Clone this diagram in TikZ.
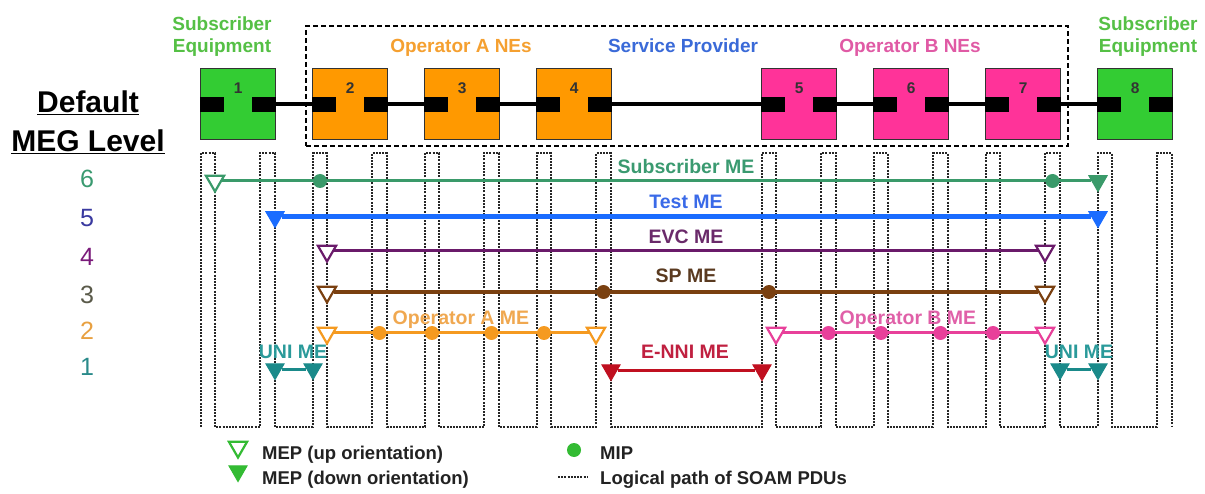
\documentclass[tikz,border=0pt]{standalone}
\usepackage{fontspec}
\setmainfont{Liberation Sans}
\usetikzlibrary{shapes.geometric}
\pgfdeclarelayer{background}
\pgfdeclarelayer{bg}
\pgfsetlayers{background,bg,main}
\definecolor{boxgreen}{HTML}{33CC33}
\definecolor{boxorange}{HTML}{FF9900}
\definecolor{boxpink}{HTML}{FF3399}
\definecolor{subeq}{HTML}{55C045}
\definecolor{opAtxt}{HTML}{F5A030}
\definecolor{sptxt}{HTML}{3A6AD8}
\definecolor{opBtxt}{HTML}{E05AA5}
\definecolor{subme}{HTML}{3A9A6A}
\definecolor{testme}{HTML}{1A6CFF}
\definecolor{evcme}{HTML}{6A1A6A}
\definecolor{spme}{HTML}{7A4010}
\definecolor{opame}{HTML}{F59A20}
\definecolor{opbme}{HTML}{E8409A}
\definecolor{enni}{HTML}{C01020}
\definecolor{unime}{HTML}{1A8A8A}
\definecolor{submetxt}{HTML}{3A9A70}
\definecolor{testmetxt}{HTML}{3A6AE8}
\definecolor{evcmetxt}{HTML}{6A2A6A}
\definecolor{spmetxt}{HTML}{5A3A20}
\definecolor{opametxt}{HTML}{F0A850}
\definecolor{opbmetxt}{HTML}{E060A8}
\definecolor{unimetxt}{HTML}{2A9A9A}
\definecolor{ennitxt}{HTML}{C02040}
\definecolor{lvlsix}{HTML}{3A9A70}
\definecolor{lvlfive}{HTML}{3A3AA0}
\definecolor{lvlfour}{HTML}{7A1A7A}
\definecolor{lvlthree}{HTML}{5A5A4A}
\definecolor{lvltwo}{HTML}{E8A040}
\definecolor{lvlone}{HTML}{2A8A8A}
\definecolor{legendgreen}{HTML}{33BB33}
\definecolor{legtxtc}{HTML}{222222}
\newcommand\mylbl{\fontsize{19.5}{22}\selectfont\bfseries}
\newcommand\mytop{\fontsize{19}{22}\selectfont\bfseries}
\newcommand\mybig{\fontsize{30}{34}\selectfont\bfseries}
\newcommand\mylvl{\fontsize{25}{28}\selectfont}
\newcommand\mynum{\fontsize{15.5}{18}\selectfont\bfseries}
\newcommand\myleg{\fontsize{18.5}{22}\selectfont\bfseries}
\begin{document}
\begin{tikzpicture}[x=1pt,y=-1pt,
  nebox/.style={draw=black!80, line width=1.3pt, minimum width=75pt, minimum height=71pt, inner sep=0pt, anchor=north west},
  port/.style={fill=black, minimum width=24pt, minimum height=15pt, inner sep=0pt},
  link/.style={draw=black, line width=4pt},
  spframe/.style={draw=black, dashed, dash pattern=on 5pt off 3pt, line width=2pt, minimum width=762pt, minimum height=120pt, inner sep=0pt, anchor=north west},
  soam/.style={draw=black!85, dash pattern=on 2pt off 1.2pt, line width=2pt},
  upmep/.style={regular polygon, regular polygon sides=3, shape border rotate=180, minimum size=21pt, inner sep=0pt, fill=white, draw=#1, line width=2.2pt},
  downmep/.style={regular polygon, regular polygon sides=3, shape border rotate=180, minimum size=21pt, inner sep=0pt, fill=#1, draw=#1, line width=1pt},
  mip/.style={circle, fill=#1, minimum size=14pt, inner sep=0pt},
  meline/.style={draw=#1, line width=3pt},
  melbl/.style={font=\mylbl, inner sep=0pt, anchor=base},
  toplbl/.style={font=\mytop, inner sep=0pt, anchor=base},
  lvl/.style={font=\mylvl, inner sep=0pt, anchor=base},
  numtxt/.style={font=\mynum, text=black!80, inner sep=0pt, anchor=base},
  legtxt/.style={font=\myleg, text=legtxtc, inner sep=0pt, anchor=base west}
]
\useasboundingbox (0,0) rectangle (1205,494);
\begin{pgfonlayer}{background}
\fill[white] (0,0) rectangle (1205,494);
\end{pgfonlayer}

% ---------- Top labels ----------
\node[toplbl, text=subeq] (se1a) at (222,31) {Subscriber};
\node[toplbl, text=subeq] (se1b) at (222,53) {Equipment};
\node[toplbl, text=subeq] (se2a) at (1148,31) {Subscriber};
\node[toplbl, text=subeq] (se2b) at (1148,53) {Equipment};
\node[toplbl, text=opAtxt] (opA) at (461,53) {Operator A NEs};
\node[toplbl, text=sptxt] (spl) at (683,53) {Service Provider};
\node[toplbl, text=opBtxt] (opB) at (910,53) {Operator B NEs};

\node[spframe] (sp) at (305,25) {};

% ---------- Network elements ----------
\node[nebox, fill=boxgreen] (b1) at (200,68) {};
\node[nebox, fill=boxorange] (b2) at (312,68) {};
\node[nebox, fill=boxorange] (b3) at (424,68) {};
\node[nebox, fill=boxorange] (b4) at (536,68) {};
\node[nebox, fill=boxpink] (b5) at (761,68) {};
\node[nebox, fill=boxpink] (b6) at (873,68) {};
\node[nebox, fill=boxpink] (b7) at (985,68) {};
\node[nebox, fill=boxgreen] (b8) at (1097,68) {};
\foreach \i in {1,...,8}{
  \node[port, anchor=west] (b\i l) at (b\i.west) {};
  \node[port, anchor=east] (b\i r) at (b\i.east) {};
  \node[numtxt] (n\i) at ([yshift=-26pt]b\i.north) {\i};
}
\begin{pgfonlayer}{bg}
\foreach \a/\b in {1/2,2/3,3/4,4/5,5/6,6/7,7/8}{
  \draw[link] (b\a r) -- (b\b l);
}
\end{pgfonlayer}

% ---------- Default MEG level ----------
\node[font=\mybig, inner sep=0pt, anchor=base] (dft) at (88,113) {\underline{Default}};
\node[font=\mybig, inner sep=0pt, anchor=base] (meg) at (88,152) {\underline{MEG Level}};
\node[lvl, text=lvlsix] (l6) at (87,188) {6};
\node[lvl, text=lvlfive] (l5) at (87,227) {5};
\node[lvl, text=lvlfour] (l4) at (87,266) {4};
\node[lvl, text=lvlthree] (l3) at (87,304) {3};
\node[lvl, text=lvltwo] (l2) at (87,340) {2};
\node[lvl, text=lvlone] (l1) at (87,375) {1};

% ---------- Logical path of SOAM PDUs ----------
\begin{pgfonlayer}{bg}
\draw[soam] (201,427) -- (201,153) -- (215,153) -- (215,427)
  \foreach \a/\b in {260/275,313/327,372/387,425/439,484/499,537/551,596/611,762/776,821/836,874/888,933/948,986/1000,1045/1060,1098/1112,1157/1172}{ -| (\a,153) -- (\b,153) -- (\b,427)};
\end{pgfonlayer}

% ---------- Subscriber ME (6) ----------
\node[upmep=subme] (s1) at (215,181) {};
\node[mip=subme] (s2) at (320,181) {};
\node[mip=subme] (s3) at (1052.5,181) {};
\node[downmep=subme] (s4) at (1098,181) {};
\node[melbl, text=submetxt] at (686,174) {Subscriber ME};

% ---------- Test ME (5) ----------
\node[downmep=testme] (t1) at (275,217) {};
\node[downmep=testme] (t2) at (1098,217) {};
\node[melbl, text=testmetxt] at (686,209) {Test ME};

% ---------- EVC ME (4) ----------
\node[upmep=evcme] (e1) at (327,251) {};
\node[upmep=evcme] (e2) at (1045,251) {};
\node[melbl, text=evcmetxt] at (686,244) {EVC ME};

% ---------- SP ME (3) ----------
\node[upmep=spme] (p1) at (327,292) {};
\node[mip=spme] (p2) at (603.5,292) {};
\node[mip=spme] (p3) at (769,292) {};
\node[upmep=spme] (p4) at (1045,292) {};
\node[melbl, text=spmetxt] at (686,283) {SP ME};

% ---------- Operator A ME (2) ----------
\node[upmep=opame] (a1) at (327,333) {};
\node[mip=opame] (a2) at (379.5,333) {};
\node[mip=opame] (a3) at (432,333) {};
\node[mip=opame] (a4) at (491.5,333) {};
\node[mip=opame] (a5) at (544,333) {};
\node[upmep=opame] (a6) at (596,333) {};
\node[melbl, text=opametxt] at (461,325) {Operator A ME};

% ---------- Operator B ME (2) ----------
\node[upmep=opbme] (o1) at (776,333) {};
\node[mip=opbme] (o2) at (828.5,333) {};
\node[mip=opbme] (o3) at (881,333) {};
\node[mip=opbme] (o4) at (940.5,333) {};
\node[mip=opbme] (o5) at (993,333) {};
\node[upmep=opbme] (o6) at (1045,333) {};
\node[melbl, text=opbmetxt] at (908,325) {Operator B ME};

% ---------- UNI / E-NNI ME (1) ----------
\node[downmep=unime] (u1) at (275,369) {};
\node[downmep=unime] (u2) at (313,369) {};
\node[melbl, text=unimetxt] at (293,359) {UNI ME};
\node[downmep=enni] (x1) at (611,370) {};
\node[downmep=enni] (x2) at (762,370) {};
\node[melbl, text=ennitxt] at (685,359) {E-NNI ME};
\node[downmep=unime] (u3) at (1060,369) {};
\node[downmep=unime] (u4) at (1098,369) {};
\node[melbl, text=unimetxt] at (1079,359) {UNI ME};

\begin{pgfonlayer}{bg}
\draw[meline=subme] (s1) -- (s4);
\draw[meline=testme, line width=5pt] (t1) -- (t2);
\draw[meline=evcme] (e1) -- (e2);
\draw[meline=spme, line width=3.5pt] (p1) -- (p4);
\draw[meline=opame] (a1) -- (a6);
\draw[meline=opbme] (o1) -- (o6);
\draw[meline=unime] (u1) -- (u2);
\draw[meline=enni] (x1) -- (x2);
\draw[meline=unime] (u3) -- (u4);
\end{pgfonlayer}

% ---------- Legend ----------
\node[upmep=legendgreen] (lg1) at (238,447) {};
\node[downmep=legendgreen] (lg2) at (238,471) {};
\node[legtxt] (lt1) at (262,459) {MEP (up orientation)};
\node[legtxt] (lt2) at (262,484) {MEP (down orientation)};
\node[mip=legendgreen] (lg3) at (574,450) {};
\node[legtxt] (lt3) at (600,459) {MIP};
\coordinate (lgA) at (558,477);
\coordinate (lgB) at (588,477);
\draw[soam, line width=1.5pt] (lgA) -- (lgB);
\node[legtxt] (lt4) at (600,484) {Logical path of SOAM PDUs};
\end{tikzpicture}
\end{document}
